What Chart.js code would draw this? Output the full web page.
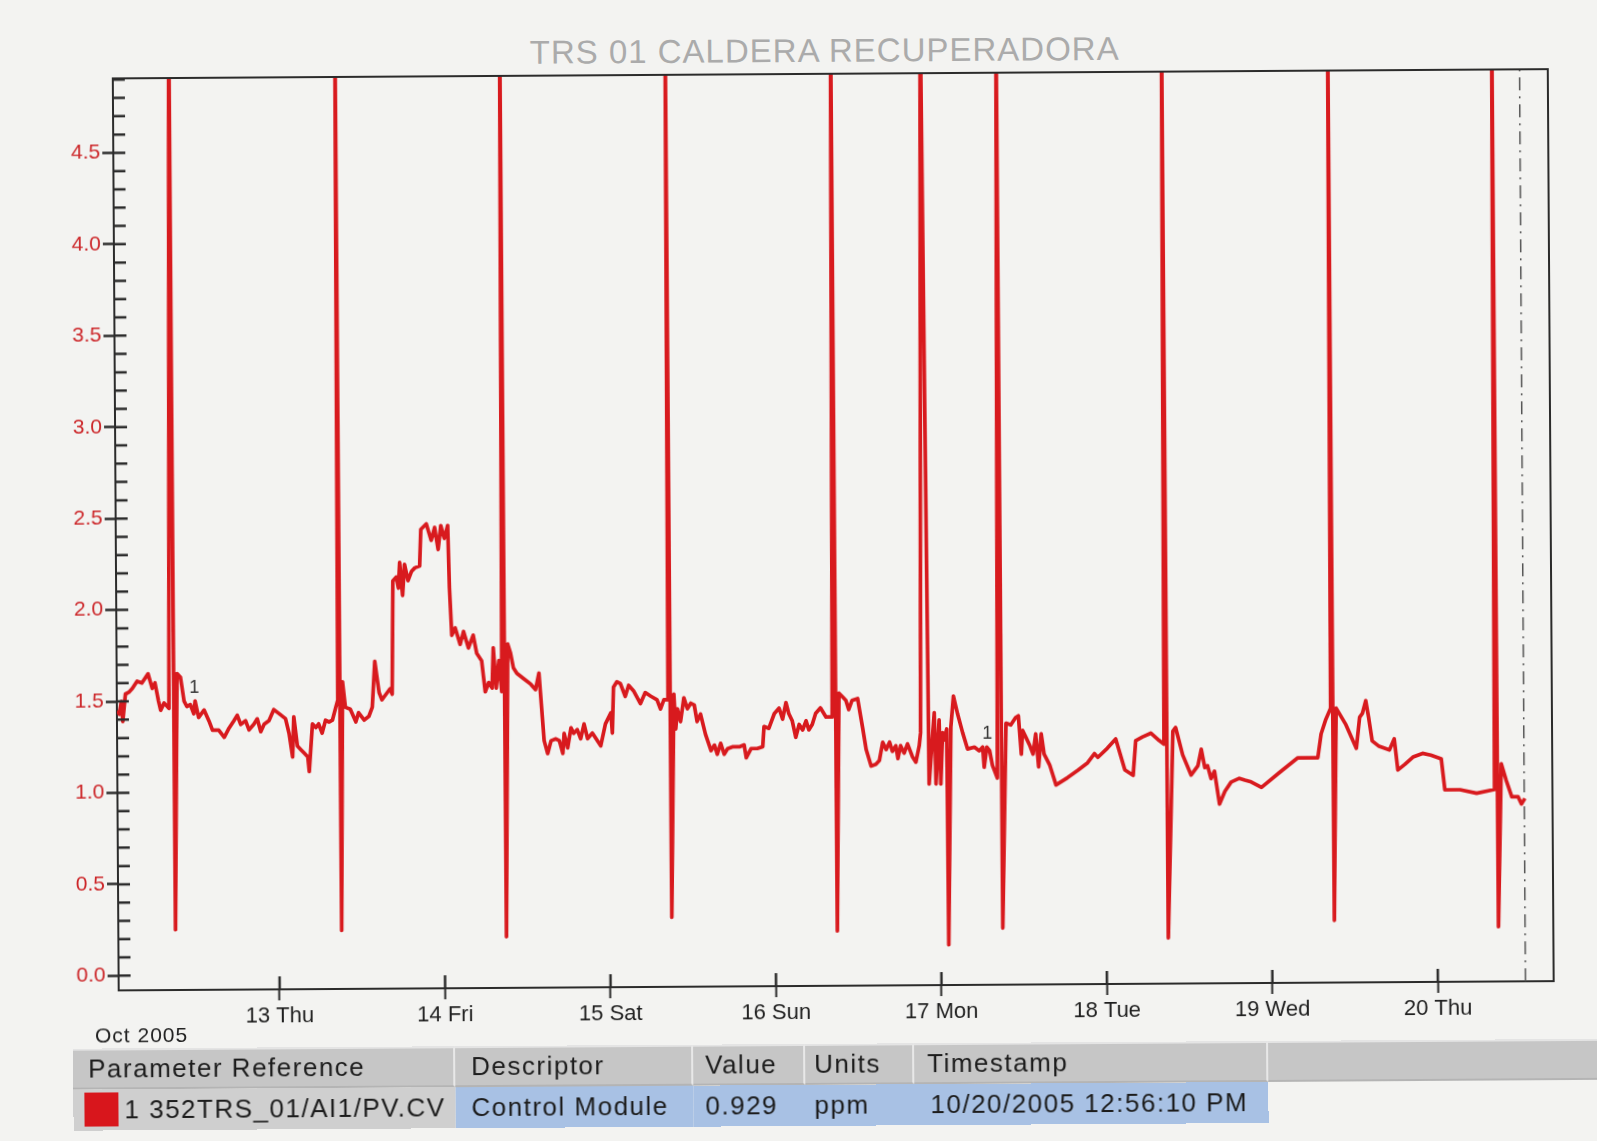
<!DOCTYPE html>
<html lang="es">
<head>
  <meta charset="UTF-8" />
  <title>TRS 01 CALDERA RECUPERADORA</title>
  <script src="https://cdn.jsdelivr.net/npm/chart.js@4.4.0/dist/chart.umd.min.js"></script>
  <style>
    html, body {
      margin: 0;
      padding: 0;
      width: 1597px;
      height: 1141px;
      overflow: hidden;
      background: #f3f3f1;
      font-family: "Liberation Sans", Arial, sans-serif;
    }
    /* the scanned sheet sits slightly rotated */
    #page {
      position: relative;
      width: 1597px;
      height: 1141px;
      transform: rotate(-0.37deg);
      transform-origin: 798px 570px;
    }
    #trend { position: absolute; left: 0; top: 0; }
    .title {
      position: absolute;
      left: 828px;
      top: 34px;
      transform: translateX(-50%);
      font-size: 33px;
      line-height: 34px;
      letter-spacing: 1px;
      color: #ababab;
      white-space: nowrap;
    }
    .month {
      position: absolute;
      left: 92px;
      top: 1020px;
      font-size: 21px;
      line-height: 22px;
      letter-spacing: 1px;
      color: #222;
    }
    .legend {
      position: absolute;
      left: 70px;
      top: 1044px;
      font-size: 26px;
      letter-spacing: 1.5px;
      color: #1c1c1c;
    }
    .row { display: flex; height: 41px; }
    .cell {
      box-sizing: border-box;
      height: 41px;
      line-height: 41px;
      white-space: nowrap;
      overflow: hidden;
    }
    .head .cell {
      background: #c6c6c6;
      border-top: 2px solid #e4e4e4;
      border-right: 2px solid #e8e8e8;
      border-bottom: 2px solid #b4b4b4;
      line-height: 37px;
    }
    .ref { background: #cfcfcf; position: relative; }
    .blue { background: #a8c1e4; }
    .swatch {
      position: absolute;
      left: 11px;
      top: 3px;
      width: 34px;
      height: 34px;
      background: #d8161c;
    }
  </style>
</head>
<body>
  <div id="page">
    <div class="title">TRS 01 CALDERA RECUPERADORA</div>
    <canvas id="trend" width="1597" height="1141"></canvas>
    <div class="month">Oct 2005</div>

    <div class="legend">
      <div class="row head">
        <div class="cell" style="width:382px;padding-left:15px">Parameter Reference</div>
        <div class="cell" style="width:238px;padding-left:16px">Descriptor</div>
        <div class="cell" style="width:112px;padding-left:12px">Value</div>
        <div class="cell" style="width:109px;padding-left:9px">Units</div>
        <div class="cell" style="width:354px;padding-left:13px">Timestamp</div>
        <div class="cell" style="width:380px"></div>
      </div>
      <div class="row">
        <div class="cell ref" style="width:382px;padding-left:51px"><span class="swatch"></span>1 352TRS_01/AI1/PV.CV</div>
        <div class="cell blue" style="width:238px;padding-left:16px">Control Module</div>
        <div class="cell blue" style="width:112px;padding-left:12px">0.929</div>
        <div class="cell blue" style="width:109px;padding-left:9px">ppm</div>
        <div class="cell blue" style="width:354px;padding-left:16px">10/20/2005 12:56:10 PM</div>
      </div>
    </div>
  </div>

  <script>
    // --- Trend data: hours after Oct 12 00:00, value in ppm ------------
    const hours = [
      0.7, 1.0, 1.3, 1.5, 1.9, 2.4, 2.9, 3.6, 4.3, 5.2, 5.8, 6.2, 6.7, 7.0, 7.5, 8.2,
      8.8, 8.95, 9.4, 9.9, 10.4, 10.8, 11.3, 11.8, 12.0, 12.5, 13.3, 14.0, 14.5, 15.4,
      16.2, 16.9, 17.6, 18.1, 18.6, 19.3, 19.8, 20.5, 21.0, 21.5, 22.0, 22.7, 23.4, 24.1,
      25.1, 25.6, 26.1, 26.3, 26.8, 27.3, 27.8, 28.3, 28.5, 29.0, 29.5, 29.9, 30.4, 30.9,
      31.4, 31.9, 32.4, 32.7, 32.9, 33.05, 33.4, 33.8, 34.5, 35.3, 35.7, 36.5, 37.2, 37.7,
      38.1, 38.7, 39.1, 39.9, 40.3, 40.6, 40.8, 41.3, 41.6, 41.8, 42.2, 42.5, 43.0, 43.5,
      44.0, 44.7, 44.9, 45.7, 46.4, 46.9, 47.4, 47.8, 48.3, 48.8, 49.0, 49.3, 49.8, 50.5,
      51.0, 51.7, 52.4, 52.9, 53.6, 54.1, 54.6, 55.1, 55.3, 55.7, 56.1, 56.5, 56.8, 56.95,
      57.4, 57.8, 58.2, 58.7, 59.7, 60.7, 61.4, 61.9, 62.6, 63.1, 63.6, 64.3, 64.8, 65.3,
      65.5, 66.0, 66.5, 66.9, 67.4, 67.9, 68.4, 68.9, 69.6, 70.8, 71.5, 72.3, 72.5, 72.7,
      73.2, 73.7, 74.4, 74.9, 75.6, 76.6, 77.3, 78.1, 79.0, 79.5, 80.0, 80.6, 80.8, 80.95,
      81.45, 81.7, 81.95, 82.4, 82.9, 83.4, 83.9, 84.4, 84.8, 85.3, 86.0, 86.8, 87.3, 87.7,
      88.2, 88.7, 89.2, 89.9, 90.9, 91.6, 91.9, 92.6, 93.5, 94.3, 94.5, 95.2, 96.0, 96.7,
      97.2, 97.7, 98.1, 98.6, 99.1, 99.6, 100.1, 100.6, 101.0, 101.5, 102.0, 102.7, 103.5, 104.4,
      104.8, 104.95, 105.4, 105.9, 106.4, 106.8, 107.3, 108.1, 108.8, 109.3, 110.0, 110.7, 111.2, 111.7,
      112.2, 112.7, 113.1, 113.6, 113.9, 114.3, 114.8, 115.3, 116.0, 116.5, 117.0, 117.2, 117.8, 118.4,
      119.2, 119.4, 119.9, 120.1, 120.4, 120.6, 121.0, 121.1, 121.6, 122.0, 122.6, 123.3, 124.0, 125.0,
      125.7, 126.2, 126.4, 126.8, 127.2, 127.6, 128.3, 128.8, 128.95, 129.6, 130.3, 131.0, 131.4, 131.8,
      132.0, 132.5, 133.0, 133.5, 133.9, 134.3, 134.7, 135.1, 135.9, 136.8, 138.5, 140.0, 141.4, 142.4,
      142.9, 144.3, 145.5, 146.8, 148.0, 148.4, 149.4, 150.6, 151.8, 152.5, 152.8, 152.95, 153.8, 154.2,
      155.2, 156.4, 157.4, 157.9, 158.4, 158.8, 159.3, 159.8, 160.5, 161.3, 162.2, 163.4, 164.2, 165.1,
      166.6, 169.2, 171.9, 174.8, 175.3, 176.0, 176.7, 176.9, 177.05, 177.5, 178.9, 180.4, 180.9, 181.3,
      181.8, 182.2, 182.7, 183.7, 185.2, 185.9, 186.4, 187.4, 188.6, 190.0, 191.2, 192.7, 193.2, 195.4,
      197.8, 200.4, 200.7, 200.85, 201.4, 202.1, 202.9, 203.8, 204.3, 204.8
    ];
    const ppm = [
      1.45, 1.43, 1.50, 1.39, 1.54, 1.55, 1.57, 1.61, 1.60, 1.65, 1.57, 1.60, 1.50, 1.45, 1.49, 1.46,
      5.3, 0.25, 1.65, 1.63, 1.50, 1.47, 1.48, 1.43, 1.50, 1.41, 1.45, 1.39, 1.34, 1.34,
      1.30, 1.35, 1.39, 1.42, 1.37, 1.39, 1.34, 1.37, 1.40, 1.33, 1.37, 1.39, 1.45, 1.43,
      1.40, 1.32, 1.19, 1.41, 1.25, 1.23, 1.21, 1.19, 1.11, 1.37, 1.35, 1.37, 1.32, 1.39,
      1.38, 1.39, 1.46, 1.50, 5.3, 0.24, 1.60, 1.46, 1.45, 1.38, 1.43, 1.39, 1.41, 1.46,
      1.71, 1.54, 1.50, 1.54, 1.56, 1.53, 2.15, 2.17, 2.11, 2.25, 2.07, 2.24, 2.15, 2.20,
      2.22, 2.23, 2.43, 2.46, 2.37, 2.44, 2.32, 2.45, 2.38, 2.45, 2.11, 1.85, 1.89, 1.80,
      1.87, 1.78, 1.85, 1.75, 1.71, 1.54, 1.59, 1.56, 1.78, 1.56, 1.71, 1.54, 5.3, 0.20,
      1.80, 1.75, 1.67, 1.64, 1.61, 1.58, 1.55, 1.64, 1.27, 1.20, 1.27, 1.28, 1.27, 1.20,
      1.31, 1.23, 1.34, 1.31, 1.33, 1.28, 1.36, 1.28, 1.31, 1.24, 1.36, 1.42, 1.31, 1.56,
      1.59, 1.58, 1.51, 1.57, 1.54, 1.47, 1.53, 1.51, 1.49, 1.44, 1.49, 1.49, 5.3, 0.30,
      1.52, 1.33, 1.44, 1.37, 1.50, 1.44, 1.47, 1.46, 1.37, 1.41, 1.30, 1.21, 1.24, 1.19,
      1.25, 1.19, 1.22, 1.23, 1.23, 1.24, 1.17, 1.22, 1.22, 1.23, 1.34, 1.33, 1.41, 1.44,
      1.38, 1.47, 1.41, 1.37, 1.28, 1.35, 1.32, 1.37, 1.32, 1.35, 1.41, 1.44, 1.39, 1.39,
      5.3, 0.22, 1.52, 1.50, 1.48, 1.43, 1.48, 1.49, 1.33, 1.21, 1.12, 1.13, 1.15, 1.25,
      1.21, 1.25, 1.20, 1.23, 1.16, 1.23, 1.19, 1.24, 1.17, 1.14, 1.23, 1.30, 5.3, 1.02,
      1.41, 1.02, 1.37, 1.02, 1.30, 1.26, 1.32, 0.14, 1.33, 1.50, 1.40, 1.30, 1.21, 1.22,
      1.20, 1.22, 1.11, 1.22, 1.20, 1.12, 1.05, 5.3, 0.23, 1.35, 1.34, 1.38, 1.39, 1.18,
      1.31, 1.27, 1.23, 1.18, 1.29, 1.11, 1.29, 1.18, 1.12, 1.01, 1.05, 1.09, 1.13, 1.18,
      1.16, 1.21, 1.26, 1.09, 1.06, 1.25, 1.27, 1.29, 1.25, 1.23, 5.3, 0.17, 1.30, 1.32,
      1.17, 1.06, 1.11, 1.20, 1.10, 1.11, 1.04, 1.08, 0.90, 0.97, 1.02, 1.04, 1.03, 1.02,
      0.99, 1.07, 1.15, 1.15, 1.28, 1.36, 1.42, 5.3, 0.26, 1.42, 1.33, 1.20, 1.37, 1.39,
      1.46, 1.37, 1.24, 1.21, 1.19, 1.25, 1.08, 1.11, 1.15, 1.17, 1.16, 1.14, 0.97, 0.97,
      0.95, 0.97, 5.3, 0.22, 1.11, 1.02, 0.93, 0.93, 0.89, 0.92
    ];

    // --- Axis ticks and labels ------------------------------------
    const dayTicks = [24, 48, 72, 96, 120, 144, 168, 192];
    const dayLabels = ['13 Thu', '14 Fri', '15 Sat', '16 Sun', '17 Mon', '18 Tue', '19 Wed', '20 Thu'];
    const yMajorTicks = [0.0, 0.5, 1.0, 1.5, 2.0, 2.5, 3.0, 3.5, 4.0, 4.5];

    // cursor (dash-dot line) and the small pen "1" markers
    const cursorHour = 204.7;
    const penMarkHours = [11.9, 126.9];
    const penMarkPpm = [1.57, 1.29];

    const X_MIN = 0.65, X_MAX = 208.8;
    const Y_MIN = -0.08, Y_MAX = 4.907;

    const penRed = '#d81a1e';
    const axisColor = '#2b2b2b';

    const isMajor = v => yMajorTicks.some(m => Math.abs(m - v) < 1e-6);

    // --- Frame, inner tick marks and pen markers -------------------
    const frameAndTicks = {
      id: 'frameAndTicks',
      afterDraw(chart) {
        const { ctx, chartArea: a, scales: { x, y } } = chart;
        ctx.save();
        ctx.strokeStyle = axisColor;
        ctx.lineWidth = 2;
        ctx.beginPath();
        ctx.moveTo(a.left, a.top);
        ctx.lineTo(a.right, a.top);
        ctx.lineTo(a.right, a.bottom);
        ctx.stroke();

        ctx.lineWidth = 2.5;
        ctx.beginPath();
        y.ticks.forEach(t => {
          const py = y.getPixelForValue(t.value);
          ctx.moveTo(a.left, py);
          ctx.lineTo(a.left + 12, py);
        });
        x.ticks.forEach(t => {
          const px = x.getPixelForValue(t.value);
          ctx.moveTo(px, a.bottom);
          ctx.lineTo(px, a.bottom - 13);
        });
        ctx.stroke();

        ctx.fillStyle = '#333';
        ctx.font = '18px "Liberation Sans"';
        ctx.textAlign = 'center';
        ctx.textBaseline = 'middle';
        penMarkHours.forEach((h, i) => {
          ctx.fillText('1', x.getPixelForValue(h), y.getPixelForValue(penMarkPpm[i]));
        });
        ctx.restore();
      }
    };

    Chart.defaults.font.family = '"Liberation Sans", Arial, sans-serif';

    new Chart(document.getElementById('trend'), {
      type: 'line',
      data: {
        datasets: [
          {
            label: '352TRS_01/AI1/PV.CV',
            data: hours.map((h, i) => ({ x: h, y: ppm[i] })),
            borderColor: penRed,
            borderWidth: 3.7,
            pointRadius: 0,
            tension: 0,
            borderJoinStyle: 'round'
          },
          {
            label: 'cursor',
            data: [{ x: cursorHour, y: Y_MIN }, { x: cursorHour, y: Y_MAX }],
            borderColor: '#555',
            borderWidth: 1.5,
            borderDash: [13, 6, 2, 6],
            pointRadius: 0
          }
        ]
      },
      options: {
        responsive: false,
        devicePixelRatio: 1,
        animation: false,
        layout: { padding: { left: 0, top: 74, right: 46, bottom: 0 } },
        plugins: {
          legend: { display: false },
          tooltip: { enabled: false }
        },
        scales: {
          x: {
            type: 'linear',
            min: X_MIN,
            max: X_MAX,
            afterFit(s) { s.height = 155; },
            afterBuildTicks(s) { s.ticks = dayTicks.map(v => ({ value: v })); },
            border: { display: true, color: axisColor, width: 2 },
            grid: { drawOnChartArea: false, drawTicks: true, tickLength: 11, tickWidth: 2, tickColor: axisColor },
            ticks: {
              autoSkip: false,
              maxRotation: 0,
              padding: 3,
              color: '#1e1e1e',
              font: { size: 22 },
              callback: v => dayLabels[dayTicks.indexOf(v)] || ''
            }
          },
          y: {
            min: Y_MIN,
            max: Y_MAX,
            afterFit(s) { s.width = 116; },
            afterBuildTicks(s) {
              const t = [];
              for (let i = 0; i <= 49; i++) t.push({ value: i / 10 });
              s.ticks = t;
            },
            border: { display: true, color: axisColor, width: 2 },
            grid: {
              drawOnChartArea: false,
              drawTicks: true,
              tickLength: 11,
              tickWidth: 2.5,
              tickColor: c => (c.tick && isMajor(c.tick.value)) ? axisColor : 'rgba(0,0,0,0)'
            },
            ticks: {
              autoSkip: false,
              padding: 2,
              color: '#cc2629',
              font: { size: 21 },
              callback: v => isMajor(v) ? v.toFixed(1) : ''
            }
          }
        }
      },
      plugins: [frameAndTicks]
    });
  </script>
</body>
</html>
